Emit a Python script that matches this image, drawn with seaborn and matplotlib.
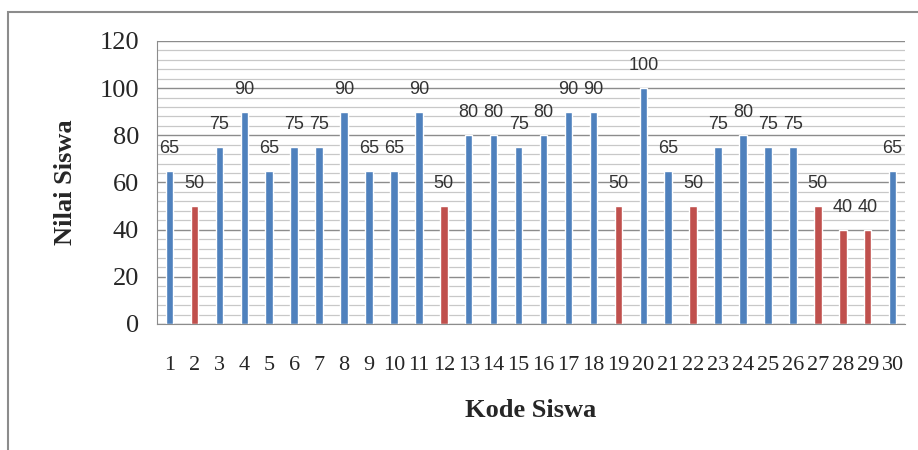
import seaborn as sns
import matplotlib.pyplot as plt
from matplotlib.patches import Rectangle
from matplotlib.ticker import MultipleLocator

# Data
kode = [str(i) for i in range(1, 31)]
nilai = [65, 50, 75, 90, 65, 75, 75, 90, 65, 65,
         90, 50, 80, 80, 75, 80, 90, 90, 50, 100,
         65, 50, 75, 80, 75, 75, 50, 40, 40, 65]
status = ['rendah' if v <= 50 else 'tuntas' for v in nilai]

sns.set_style('white')

fig = plt.figure(figsize=(9.18, 4.5), dpi=100)
ax = fig.add_axes([0.171, 0.28, 0.815, 0.629])

sns.barplot(x=kode, y=nilai, hue=status, ax=ax, width=0.3,
            palette={'tuntas': '#4F81BD', 'rendah': '#C0504D'},
            dodge=False, legend=False, saturation=1)

# value labels
for i, v in enumerate(nilai):
    ax.text(i, v + 9.5, f'{v}', ha='center', va='center',
            fontsize=13, family='Liberation Sans', color='#333333')

ax.set_ylim(0, 120)
ax.set_xlim(-0.5, 29.5)
ax.yaxis.set_major_locator(MultipleLocator(20))
ax.yaxis.set_minor_locator(MultipleLocator(4))
ax.grid(which='major', axis='y', color='#8c8c8c', linewidth=1)
ax.grid(which='minor', axis='y', color='#c8c8c8', linewidth=0.9)
ax.set_axisbelow(True)

for s in ['top', 'right']:
    ax.spines[s].set_visible(False)
for s in ['left', 'bottom']:
    ax.spines[s].set_color('#8c8c8c')

ax.tick_params(axis='y', which='major', direction='out', length=8,
               color='#8c8c8c', labelsize=19, pad=5)
ax.tick_params(axis='y', which='minor', length=0)
ax.tick_params(axis='x', length=0, labelsize=16, pad=23)
for lab in ax.get_yticklabels() + ax.get_xticklabels():
    lab.set_family('Liberation Serif')

ax.set_ylabel('Nilai Siswa', family='Liberation Serif', fontweight='bold',
              fontsize=19, labelpad=16)
ax.set_xlabel('Kode Siswa', family='Liberation Serif', fontweight='bold',
              fontsize=19, labelpad=17)

# outer chart frame
fig.patches.append(Rectangle((8 / 918, -0.1), 1.2, 1.1 - 12 / 450,
                             transform=fig.transFigure, fill=False,
                             edgecolor='#8c8c8c', linewidth=1.5))

plt.savefig('out.png', dpi=100)
